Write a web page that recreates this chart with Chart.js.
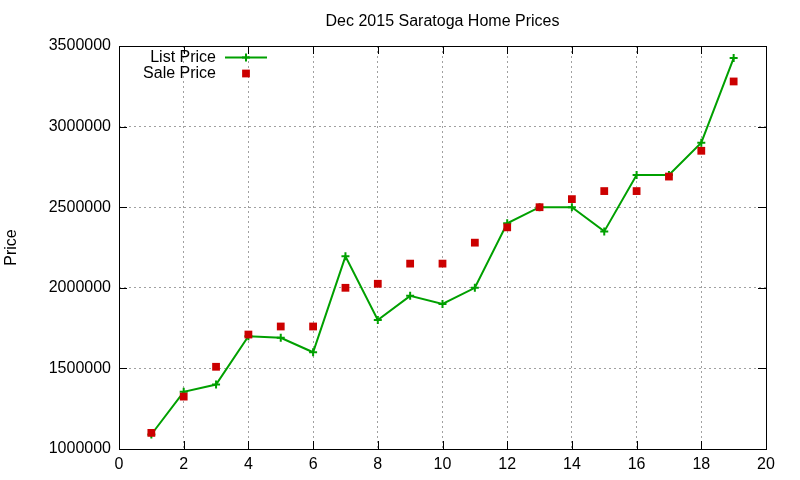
<!DOCTYPE html>
<html>
<head>
<meta charset="utf-8">
<script src="https://cdn.jsdelivr.net/npm/chart.js@4/dist/chart.umd.min.js"></script>
<style>
  html, body { margin: 0; padding: 0; background: #fff; }
</style>
</head>
<body>
<canvas id="grafica" width="800" height="480"></canvas>
<script>
// datos
const meses = [1, 2, 3, 4, 5, 6, 7, 8, 9, 10, 11, 12, 13, 14, 15, 16, 17, 18, 19];
const precioLista = [1090000, 1355000, 1400000, 1700000, 1690000, 1600000, 2195000, 1800000, 1950000, 1900000,
                     2000000, 2400000, 2500000, 2500000, 2350000, 2700000, 2700000, 2900000, 3425000];
const precioVenta = [1100000, 1325000, 1510000, 1710000, 1760000, 1760000, 2000000, 2025000, 2150000, 2150000,
                     2280000, 2375000, 2500000, 2550000, 2600000, 2600000, 2690000, 2850000, 3280000];
const ticksX = [0, 2, 4, 6, 8, 10, 12, 14, 16, 18, 20];
const ticksY = [1000000, 1500000, 2000000, 2500000, 3000000, 3500000];

const VERDE = '#00a000';
const ROJO = '#cc0000';
const FUENTE = '"Liberation Sans", Arial, sans-serif';

Chart.defaults.color = '#000';
Chart.defaults.font.family = FUENTE;
Chart.defaults.font.size = 16;

// borde, marcas hacia dentro y leyenda al estilo gnuplot
const estiloGnuplot = {
    id: 'estiloGnuplot',
    afterDraw(chart) {
        const ctx = chart.ctx;
        const a = chart.chartArea;
        const sx = chart.scales.x, sy = chart.scales.y;
        const largo = 8;
        ctx.save();
        ctx.strokeStyle = '#000';
        ctx.lineWidth = 1;
        ctx.beginPath();
        ticksX.forEach(v => {
            const px = Math.round(sx.getPixelForValue(v)) + 0.5;
            ctx.moveTo(px, a.bottom); ctx.lineTo(px, a.bottom - largo);
            ctx.moveTo(px, a.top); ctx.lineTo(px, a.top + largo);
        });
        ticksY.forEach(v => {
            const py = Math.round(sy.getPixelForValue(v)) + 0.5;
            ctx.moveTo(a.left, py); ctx.lineTo(a.left + largo, py);
            ctx.moveTo(a.right, py); ctx.lineTo(a.right - largo, py);
        });
        ctx.stroke();
        ctx.strokeRect(Math.round(a.left) + 0.5, Math.round(a.top) + 0.5,
                       Math.round(a.right - a.left), Math.round(a.bottom - a.top));

        // leyenda
        const ds = chart.data.datasets;
        const xTexto = a.left + 97, xMuestra = a.left + 127;
        ctx.font = '16px ' + FUENTE;
        ctx.fillStyle = '#000';
        ctx.textAlign = 'right';
        ctx.textBaseline = 'middle';
        [ds[1], ds[0]].forEach((d, i) => {
            const y = a.top + 11.5 + i * 16;
            ctx.fillText(d.label, xTexto, y);
            if (d.showLine !== false) {
                ctx.strokeStyle = d.borderColor;
                ctx.lineWidth = d.borderWidth;
                ctx.beginPath();
                ctx.moveTo(xMuestra - 21, y); ctx.lineTo(xMuestra + 21, y);
                ctx.stroke();
            }
            ctx.fillStyle = d.pointBackgroundColor;
            ctx.strokeStyle = d.pointBorderColor;
            ctx.lineWidth = d.pointBorderWidth;
            Chart.helpers.drawPoint(ctx, { pointStyle: d.pointStyle, radius: d.pointRadius, borderWidth: d.pointBorderWidth }, xMuestra, y);
            ctx.fillStyle = '#000';
        });
        ctx.restore();
    }
};

new Chart(document.getElementById('grafica'), {
    type: 'line',
    data: {
        datasets: [
            {
                label: 'Sale Price',
                data: meses.map((m, i) => ({ x: m, y: precioVenta[i] })),
                showLine: false,
                pointStyle: 'rect',
                pointRadius: 5.5,
                pointBackgroundColor: ROJO,
                pointBorderColor: ROJO,
                pointBorderWidth: 0,
                borderColor: ROJO,
                backgroundColor: ROJO,
                order: 0
            },
            {
                label: 'List Price',
                data: meses.map((m, i) => ({ x: m, y: precioLista[i] })),
                borderColor: VERDE,
                backgroundColor: VERDE,
                borderWidth: 2,
                tension: 0,
                pointStyle: 'cross',
                pointRadius: 4,
                pointBorderWidth: 2,
                pointBackgroundColor: VERDE,
                pointBorderColor: VERDE,
                order: 1
            }
        ]
    },
    options: {
        responsive: false,
        animation: false,
        layout: { padding: { left: 0, right: 34, top: 0, bottom: 0 } },
        plugins: {
            legend: { display: false },
            tooltip: { enabled: false },
            title: {
                display: true,
                fullSize: false,
                text: 'Dec 2015 Saratoga Home Prices',
                color: '#000',
                font: { size: 16, weight: 'normal' },
                padding: { top: 12, bottom: 14.8 }
            }
        },
        scales: {
            x: {
                type: 'linear',
                min: 0, max: 20,
                afterBuildTicks: s => { s.ticks = ticksX.map(v => ({ value: v })); },
                afterFit: s => { s.height = 31; },
                grid: { color: '#a0a0a0', drawTicks: false, lineWidth: 1 },
                border: { display: false, dash: [2, 3] },
                ticks: { padding: 6, maxRotation: 0, font: { size: 16 } }
            },
            y: {
                type: 'linear',
                min: 1000000, max: 3500000,
                afterBuildTicks: s => { s.ticks = ticksY.map(v => ({ value: v })); },
                afterFit: s => { s.width = 119; },
                grid: { color: '#a0a0a0', drawTicks: false, lineWidth: 1 },
                border: { display: false, dash: [2, 3] },
                ticks: { padding: 8, font: { size: 16 }, callback: v => String(v) },
                title: { display: true, text: 'Price', font: { size: 16 }, padding: { top: 2, bottom: 0 } }
            }
        }
    },
    plugins: [estiloGnuplot]
});
</script>
</body>
</html>
